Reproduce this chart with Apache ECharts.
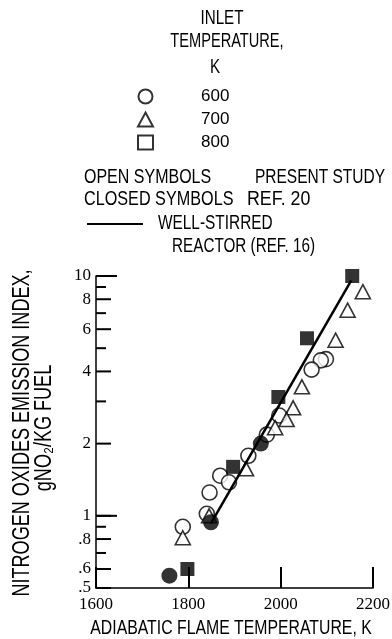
<!DOCTYPE html>
<html>
<head>
<meta charset="utf-8">
<script src="https://cdn.jsdelivr.net/npm/echarts@6/dist/echarts.min.js"></script>
<style>
html,body{margin:0;padding:0;background:#fff;}
#chart{width:392px;height:639px;}
</style>
</head>
<body>
<div id="chart"></div>
<script>
// ---- axis ticks / labels ----
const xTickValues = [1600, 1800, 2000, 2200];
const xTickLabels = ['1600', '1800', '2000', '2200'];
const yLabelValues = [0.5, 0.6, 0.8, 1, 2, 4, 6, 8, 10];
const yLabelTexts = ['.5', '.6', '.8', '1', '2', '4', '6', '8', '10'];
const yMinorTickValues = [0.7, 0.9, 3, 5, 7, 9];
const yLongTickValues = [1, 10];

// ---- data: adiabatic flame temperature (K) vs NOx emission index (g NO2/kg fuel) ----
// open circles: 600 K inlet, present study
const open600T  = [2098, 2087, 2067, 1997, 1970, 1930, 1869, 1888, 1846, 1840, 1788];
const open600EI = [4.5, 4.45, 4.07, 2.62, 2.18, 1.78, 1.47, 1.38, 1.25, 1.02, 0.9];
// open triangles: 700 K inlet, present study
const open700T  = [2178, 2145, 2119, 2046, 2027, 2013, 1988, 1925, 1845, 1788];
const open700EI = [8.6, 7.2, 5.4, 3.45, 2.82, 2.52, 2.33, 1.57, 1.0, 0.81];
// closed circles: 600 K inlet, ref. 20
const closed600T  = [1957, 1849, 1759];
const closed600EI = [2.0, 0.94, 0.563];
// closed squares: 800 K inlet, ref. 20
const closed800T  = [2155, 2057, 1995, 1897, 1798];
const closed800EI = [10.0, 5.5, 3.13, 1.6, 0.6];
// well-stirred reactor (ref. 16)
const wsrT  = [1849, 2153];
const wsrEI = [0.93, 9.6];

const legendNames = ['600', '700', '800'];

const X_MIN = 1600, X_MAX = 2200, Y_MIN = 0.5, Y_MAX = 10;

function pairs(xs, ys) { return xs.map((x, i) => [x, ys[i]]); }
function labelFor(v) {
  for (let i = 0; i < yLabelValues.length; i++) {
    if (Math.abs(yLabelValues[i] - v) < 1e-6 * Math.max(1, v)) return yLabelTexts[i];
  }
  return '';
}

const black = '#000';
const openStyle = { color: '#fff', borderColor: black, borderWidth: 1.6 };
const closedStyle = { color: black, borderColor: black, borderWidth: 0 };
const sans = 'Liberation Sans, Arial, sans-serif';
const serif = 'Liberation Serif, Times New Roman, serif';
function axisLineStyle() { return { color: black, width: 1.5, type: 'solid' }; }

const yBase = {
  type: 'log', logBase: 10, min: Y_MIN, max: Y_MAX, position: 'left',
  splitLine: { show: false }, minorTick: { show: false }, minorSplitLine: { show: false }
};

function gText(text, x, y, size, sx, align, rotation) {
  return {
    type: 'text', x: x, y: y, scaleX: sx, scaleY: 1, rotation: rotation || 0,
    silent: true,
    style: {
      text: text, fontFamily: sans, fontSize: size, fill: black,
      align: align || 'left', verticalAlign: 'middle'
    }
  };
}

// tick marks drawn through the axes' own scales (api.coord)
function yTickSeries(name, values, len) {
  return {
    name: name, type: 'custom', coordinateSystem: 'cartesian2d', silent: true, clip: false, z: 6,
    encode: { x: 0, y: 1 },
    data: values.map(v => [X_MIN, v]),
    renderItem: function (params, api) {
      const p = api.coord([api.value(0), api.value(1)]);
      return { type: 'rect', shape: { x: p[0], y: p[1] - 1, width: len, height: 2 },
               style: { fill: black } };
    }
  };
}
function xTickSeries(name, values, len) {
  return {
    name: name, type: 'custom', coordinateSystem: 'cartesian2d', silent: true, clip: false, z: 1,
    encode: { x: 0, y: 1 },
    data: values.map(v => [v, Y_MIN]),
    renderItem: function (params, api) {
      const p = api.coord([api.value(0), api.value(1)]);
      return { type: 'rect', shape: { x: p[0] - 1, y: p[1] - len, width: 2, height: len },
               style: { fill: black } };
    }
  };
}

const chart = echarts.init(document.getElementById('chart'), null, { renderer: 'canvas' });
chart.setOption({
  backgroundColor: '#fff',
  animation: false,
  grid: { left: 96, right: 19, top: 276, bottom: 51, containLabel: false, outerBoundsMode: 'none' },
  legend: {
    orient: 'vertical', left: 137, top: 88, padding: 0,
    itemWidth: 15, itemHeight: 14, itemGap: 6, selectedMode: false,
    data: [
      { name: legendNames[0], icon: 'circle' },
      { name: legendNames[1], icon: 'triangle' },
      { name: legendNames[2], icon: 'rect' }
    ],
    textStyle: { fontFamily: sans, fontSize: 17, color: black, padding: [0, 0, 0, 43] }
  },
  xAxis: {
    type: 'value', min: X_MIN, max: X_MAX, interval: 200,
    axisLine: { show: true, onZero: false, lineStyle: axisLineStyle() },
    axisTick: { show: true, inside: true, length: 21, lineStyle: { color: black, width: 2 } },
    axisLabel: {
      show: true, margin: 8,
      fontFamily: serif, fontSize: 17, color: black,
      formatter: v => xTickLabels[xTickValues.indexOf(Math.round(v))] || ''
    },
    splitLine: { show: false }
  },
  yAxis: Object.assign({}, yBase, {
    axisLine: { show: true, onZero: false, lineStyle: axisLineStyle() },
    axisTick: { show: false },
    axisLabel: {
      show: true, margin: 5, customValues: yLabelValues,
      fontFamily: serif, fontSize: 17, color: black, formatter: v => labelFor(v)
    }
  }),
  graphic: [
    gText('INLET', 222, 18, 20, 0.76, 'center'),
    gText('TEMPERATURE,', 227, 41, 20, 0.73, 'center'),
    gText('K', 215, 67, 20, 0.76, 'center'),
    gText('OPEN SYMBOLS', 84, 177, 20, 0.80, 'left'),
    gText('PRESENT STUDY', 255, 177, 20, 0.775, 'left'),
    gText('CLOSED SYMBOLS', 84, 199, 20, 0.81, 'left'),
    gText('REF. 20', 247, 199, 20, 0.89, 'left'),
    { type: 'line', silent: true, shape: { x1: 87, y1: 224, x2: 143, y2: 224 }, style: { stroke: black, lineWidth: 2 } },
    gText('WELL-STIRRED', 158, 223, 20, 0.77, 'left'),
    gText('REACTOR (REF. 16)', 172, 246, 20, 0.763, 'left'),
    gText('ADIABATIC FLAME TEMPERATURE, K', 231, 628, 21, 0.753, 'center'),
    gText('NITROGEN OXIDES EMISSION INDEX,', 23, 433, 23, 0.785, 'center', Math.PI / 2),
    gText('gNO\u2082/KG FUEL', 45, 428, 23, 0.785, 'center', Math.PI / 2)
  ],
  series: [
    yTickSeries('y ticks labelled', yLabelValues, 15),
    yTickSeries('y ticks minor', yMinorTickValues, 10),
    yTickSeries('y ticks decade', yLongTickValues, 21),
    { name: legendNames[0], type: 'scatter', data: pairs(open600T, open600EI),
      symbol: 'circle', symbolSize: 15, itemStyle: openStyle, z: 2 },
    { name: legendNames[1], type: 'scatter', data: pairs(open700T, open700EI),
      symbol: 'triangle', symbolSize: [15, 14], itemStyle: openStyle, z: 3 },
    { name: legendNames[2], type: 'scatter', data: [],
      symbol: 'rect', symbolSize: 14, itemStyle: openStyle, z: 3 },
    { name: 'Well-stirred reactor (ref. 16)', type: 'line', data: pairs(wsrT, wsrEI),
      symbol: 'none', lineStyle: { color: black, width: 2.5 }, z: 4 },
    { name: '600 K (ref. 20)', type: 'scatter', data: pairs(closed600T, closed600EI),
      symbol: 'circle', symbolSize: 16, itemStyle: closedStyle, z: 5 },
    { name: '800 K (ref. 20)', type: 'scatter', data: pairs(closed800T, closed800EI),
      symbol: 'rect', symbolSize: 14, itemStyle: closedStyle, z: 5 }
  ]
});
</script>
</body>
</html>
